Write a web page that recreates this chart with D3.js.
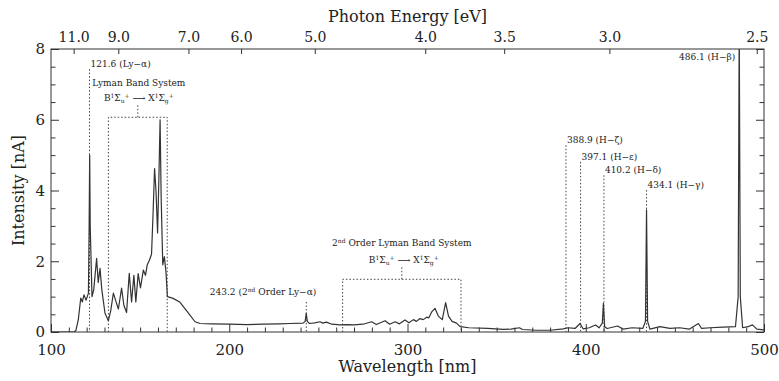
<!DOCTYPE html>
<html>
<head>
<meta charset="utf-8">
<script src="https://cdn.jsdelivr.net/npm/d3@7"></script>
<style>
  body { margin: 0; background: #fff; }
  text { font-family: "DejaVu Serif", "Liberation Serif", serif; fill: #222; }
</style>
</head>
<body>
<div id="chart"></div>
<script>
// spectrum
var wavelength = [100,113,114,115.3,116.7,117.6,118.5,119.7,121,121.4,121.7,122,123,124,125.6,126.5,127.5,128.5,130.3,132.2,
  133.5,135,136.5,137.8,139.6,140.9,142.4,143.9,145.2,146.5,147.6,148.9,150.2,151.8,153,154,155.2,156.4,157.3,158.1,
  158.9,159.8,160.6,161.2,161.8,162.7,163.6,164.5,165.3,168.5,172.4,177,180.8,183.6,190,200,210,219,228,234,
  241.4,242.6,243.2,243.8,245,248,250.9,252.5,254.5,257.6,262,266,270,275,279.9,282.5,287.4,290,293,295.5,
  298.6,300.8,303.3,305,307,308.8,310.8,312,313.6,315.4,317.3,319.5,321.4,323,325,327.5,329.5,334.4,345,353.7,
  358,362.8,364.5,372.4,379.9,387.4,390,394,396.8,398.5,402,405.5,407.5,409.3,409.9,410.6,412,417.9,421,426,
  432,433.5,434.1,434.7,436,441.6,447.2,452.8,458,463.2,465,470,477,484,485.5,486.1,486.7,488,491,493.5,496,500];
var intensity = [0,0,0.05,0.34,0.96,0.85,1.05,0.9,1.1,3.0,5.0,3.0,1.0,1.2,2.08,1.4,1.8,1.2,0.53,0.32,
  0.6,1.1,0.85,0.65,1.24,0.75,0.55,1.66,0.85,1.6,0.85,1.65,1.25,1.75,1.6,1.9,2.03,2.2,3.4,4.62,
  4.0,2.8,4.5,6.0,3.8,1.9,2.13,1.7,1.0,0.95,0.84,0.54,0.29,0.24,0.23,0.22,0.21,0.22,0.23,0.24,
  0.25,0.3,0.53,0.3,0.24,0.26,0.29,0.25,0.28,0.22,0.2,0.21,0.2,0.22,0.29,0.21,0.32,0.22,0.29,0.23,
  0.34,0.26,0.35,0.3,0.38,0.35,0.42,0.4,0.57,0.67,0.45,0.35,0.83,0.45,0.3,0.25,0.15,0.12,0.1,0.075,
  0.08,0.12,0.07,0.05,0.05,0.09,0.12,0.1,0.24,0.09,0.12,0.2,0.12,0.25,0.81,0.15,0.1,0.17,0.08,0.12,
  0.1,0.3,3.45,0.3,0.08,0.15,0.1,0.12,0.08,0.24,0.1,0.12,0.14,0.15,1.0,8.8,1.0,0.12,0.15,0.2,0.08,0.06];

var xTicks = [100, 200, 300, 400, 500];
var yTicks = [0, 2, 4, 6, 8];
var energyTicks = [11.0, 9.0, 7.0, 6.0, 5.0, 4.0, 3.5, 3.0, 2.5];

// marked lines: wavelength, top of the dotted marker (nA), label
var lineWl = [121.6, 388.9, 397.1, 410.2, 434.1];
var lineTop = [7.43, 5.28, 4.81, 4.43, 4.01];
var lineLabel = ["121.6 (Ly\u2212\u03b1)", "388.9 (H\u2212\u03b6)", "397.1 (H\u2212\u03b5)", "410.2 (H\u2212\u03b4)", "434.1 (H\u2212\u03b3)"];

// band boxes: [from, to] in nm, box height in nA
var bandFrom = [132.2, 263.6];
var bandTo = [165.2, 330];
var bandTop = [6.07, 1.49];

var margin = {top: 49, right: 15, bottom: 49, left: 51},
    W = 779, H = 381,
    width = W - margin.left - margin.right,
    height = H - margin.top - margin.bottom;

var svg = d3.select("#chart").append("svg")
    .attr("width", W).attr("height", H);
var g = svg.append("g").attr("transform", "translate(" + margin.left + "," + margin.top + ")");

var x = d3.scaleLinear().domain([100, 500]).range([0, width]);
var y = d3.scaleLinear().domain([0, 8]).range([height, 0]);
var hc = 1239.84;

g.append("clipPath").attr("id", "clip")
  .append("rect").attr("width", width).attr("height", height);

// axes (ticks point inward)
var minorX = d3.range(100, 501, 10).filter(function(d) { return d % 100 != 0; });
var minorY = d3.range(0, 8.01, 0.5).filter(function(d) { return d % 2 != 0; });

g.append("g").attr("class", "x axis").attr("transform", "translate(0," + height + ")")
  .call(d3.axisBottom(x).tickValues(xTicks).tickSize(-8).tickPadding(12).tickFormat(d3.format("d")));
g.append("g").attr("transform", "translate(0," + height + ")")
  .call(d3.axisBottom(x).tickValues(minorX).tickSize(-4.5).tickFormat(""));
g.append("g").attr("class", "y axis")
  .call(d3.axisLeft(y).tickValues(yTicks).tickSize(-8).tickPadding(6).tickFormat(d3.format("d")));
g.append("g").call(d3.axisLeft(y).tickValues(minorY).tickSize(-4.5).tickFormat(""));
g.append("g").attr("transform", "translate(" + width + ",0)")
  .call(d3.axisRight(y).tickValues(yTicks).tickSize(-8).tickFormat(""));
g.append("g").attr("transform", "translate(" + width + ",0)")
  .call(d3.axisRight(y).tickValues(minorY).tickSize(-4.5).tickFormat(""));

// top axis in photon energy
var ex = d3.scaleLinear().domain([hc / 100, hc / 500]);
var topAxis = d3.axisTop(x)
  .tickValues(energyTicks.map(function(e) { return hc / e; }))
  .tickSize(-5).tickPadding(7)
  .tickFormat(function(d) { return d3.format(".1f")(hc / d); });
g.append("g").attr("class", "top axis").call(topAxis);

g.selectAll(".axis .domain").remove();
g.selectAll("g .domain").remove();
g.selectAll(".tick line").attr("stroke", "#333");
g.selectAll(".axis text").attr("font-size", 15).attr("fill", "#222")
  .style("font-family", "'DejaVu Serif', serif");
g.selectAll(".top.axis text").attr("font-size", 14);

g.append("rect").attr("width", width).attr("height", height)
  .attr("fill", "none").attr("stroke", "#333").attr("stroke-width", 1);

// dotted markers
var dot = "1.5,2";
lineWl.forEach(function(w, i) {
  g.append("line")
    .attr("x1", x(w)).attr("x2", x(w)).attr("y1", y(lineTop[i])).attr("y2", height)
    .attr("stroke", "#444").attr("stroke-dasharray", dot);
  g.append("text")
    .attr("x", x(w) + 1).attr("y", y(lineTop[i]) - 2)
    .attr("font-size", 9).text(lineLabel[i]);
});

// 2nd order Ly-alpha
g.append("line")
  .attr("x1", x(243.2)).attr("x2", x(243.2)).attr("y1", y(0.85)).attr("y2", height)
  .attr("stroke", "#444").attr("stroke-dasharray", dot);
var t2 = g.append("text").attr("x", x(243.2) + 10).attr("y", y(1.05))
  .attr("font-size", 9).attr("text-anchor", "end");
t2.append("tspan").text("243.2 (2");
t2.append("tspan").attr("font-size", 6).attr("dy", -3).text("nd");
t2.append("tspan").attr("dy", 3).text(" Order Ly\u2212\u03b1)");

// H-beta label, to the left of the line
g.append("text").attr("x", x(486.1) - 4).attr("y", y(7.7))
  .attr("font-size", 9).attr("text-anchor", "end").text("486.1 (H\u2212\u03b2)");

// band boxes
bandFrom.forEach(function(a, i) {
  var b = bandTo[i], mid = (a + b) / 2;
  g.append("path")
    .attr("d", "M" + x(a) + "," + height + "V" + y(bandTop[i]) + "H" + x(b) + "V" + height)
    .attr("fill", "none").attr("stroke", "#444").attr("stroke-dasharray", dot);
  g.append("line")
    .attr("x1", x(mid)).attr("x2", x(mid)).attr("y1", y(bandTop[i])).attr("y2", y(bandTop[i]) - 12)
    .attr("stroke", "#444").attr("stroke-dasharray", dot);
});

function transition(sel, xc, yb) {
  var t = sel.append("text").attr("x", xc).attr("y", yb).attr("font-size", 9).attr("text-anchor", "middle");
  t.append("tspan").text("B");
  t.append("tspan").attr("font-size", 6).attr("dy", -3).text("1");
  t.append("tspan").attr("dy", 3).text("\u03a3");
  t.append("tspan").attr("font-size", 6).attr("dy", 2).text("u");
  t.append("tspan").attr("font-size", 6).attr("dy", -5).text("+");
  t.append("tspan").attr("dy", 3).text(" \u27f6 X");
  t.append("tspan").attr("font-size", 6).attr("dy", -3).text("1");
  t.append("tspan").attr("dy", 3).text("\u03a3");
  t.append("tspan").attr("font-size", 6).attr("dy", 2).text("g");
  t.append("tspan").attr("font-size", 6).attr("dy", -5).text("+");
}

var mid1 = x((bandFrom[0] + bandTo[0]) / 2);
g.append("text").attr("x", mid1 + 1).attr("y", y(6.07) - 31)
  .attr("font-size", 9).attr("text-anchor", "middle").text("Lyman Band System");
transition(g, mid1 + 1, y(6.07) - 16);

var mid2 = x((bandFrom[1] + bandTo[1]) / 2);
var t3 = g.append("text").attr("x", mid2).attr("y", y(1.49) - 33)
  .attr("font-size", 9).attr("text-anchor", "middle");
t3.append("tspan").text("2");
t3.append("tspan").attr("font-size", 6).attr("dy", -3).text("nd");
t3.append("tspan").attr("dy", 3).text(" Order Lyman Band System");
transition(g, mid2 + 2, y(1.49) - 16);

// spectrum
var line = d3.line()
  .x(function(d) { return x(d[0]); })
  .y(function(d) { return y(d[1]); });
var pts = wavelength.map(function(w, i) { return [w, intensity[i]]; });
g.append("path").datum(pts)
  .attr("clip-path", "url(#clip)")
  .attr("d", line)
  .attr("fill", "none").attr("stroke", "#333").attr("stroke-width", 1.2)
  .attr("stroke-linejoin", "round");

// titles
svg.append("text").attr("x", margin.left + width / 2).attr("y", 22)
  .attr("text-anchor", "middle").attr("font-size", 16).text("Photon Energy [eV]");
svg.append("text").attr("x", margin.left + width / 2).attr("y", 372)
  .attr("text-anchor", "middle").attr("font-size", 16).text("Wavelength [nm]");
svg.append("text").attr("transform", "translate(24," + (margin.top + height / 2) + ") rotate(-90)")
  .attr("text-anchor", "middle").attr("font-size", 16).text("Intensity [nA]");
</script>
</body>
</html>
